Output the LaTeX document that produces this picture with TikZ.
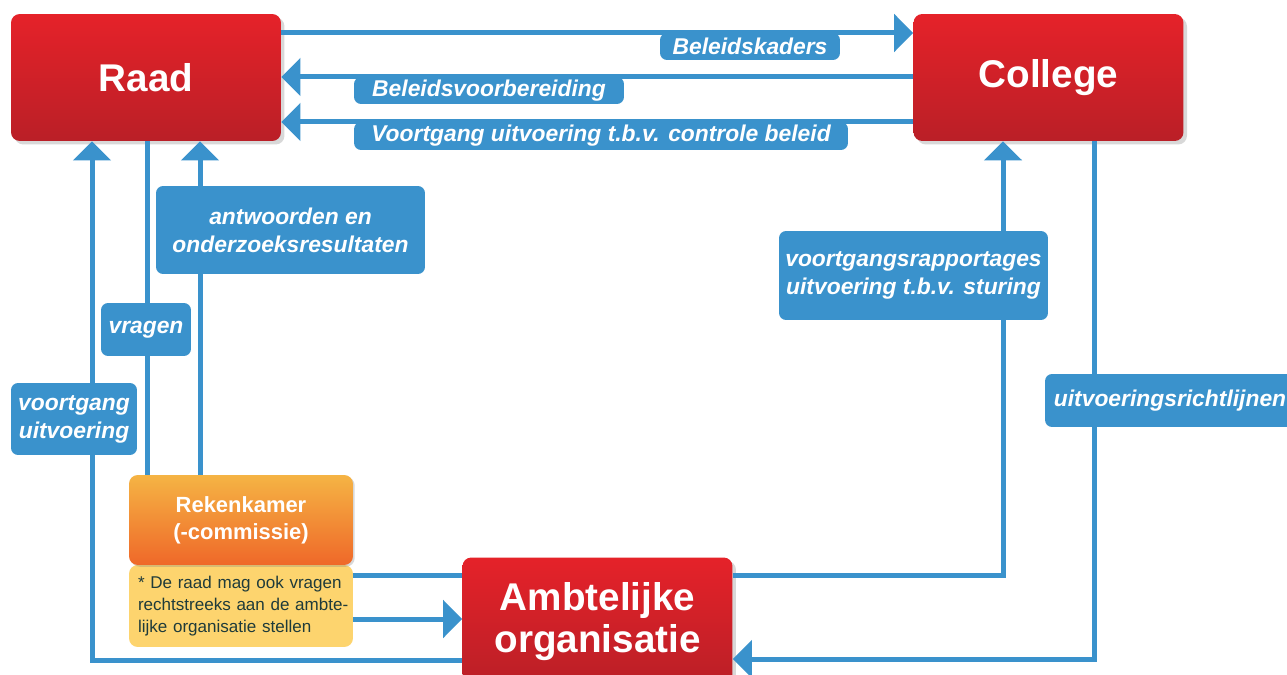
\documentclass[tikz,border=0pt]{standalone}
\usepackage{fontspec}
\setmainfont{Liberation Sans}
\usetikzlibrary{arrows.meta,shadows}
\definecolor{flowblue}{HTML}{3A92CC}
\definecolor{redtop}{HTML}{E52229}
\definecolor{redbot}{HTML}{BA1F27}
\definecolor{orangetop}{HTML}{F5B444}
\definecolor{orangebot}{HTML}{EF6829}
\definecolor{notefill}{HTML}{FDD46E}
\definecolor{notetext}{HTML}{1F3B3A}

\begin{document}
\begin{tikzpicture}[x=0.02cm,y=-0.02cm,
  main/.style={rounded corners=5pt,top color=redtop,bottom color=redbot,minimum width=5.4cm,minimum height=2.54cm,
    text=white,align=center,font=\fontsize{22}{24}\selectfont\bfseries,
    drop shadow={opacity=0.3,shadow xshift=2pt,shadow yshift=-2pt}},
  rekbox/.style={rounded corners=5pt,top color=orangetop,bottom color=orangebot,minimum width=4.48cm,minimum height=1.8cm,
    text=white,align=center,font=\fontsize{12.5}{15.5}\selectfont\bfseries,
    drop shadow={opacity=0.3,shadow xshift=1pt,shadow yshift=-1pt}},
  notebox/.style={fill=notefill,rounded corners=5pt,minimum width=4.48cm,minimum height=1.64cm,inner xsep=0.08cm,
    text width=4.32cm,align=left,text=notetext,font=\fontsize{9.7}{12.3}\selectfont},
  lbl/.style={fill=flowblue,rounded corners=4pt,inner sep=0pt,text=white,align=center,
    font=\fontsize{13}{16}\selectfont\bfseries\itshape},
  link/.style={flowblue,line width=0.1cm},
  flow/.style={link,-{Triangle[width=0.74cm,length=0.38cm]}},
]
  \useasboundingbox (0,0) rectangle (1287,675);
  \clip (0,0) rectangle (1287,675);
  \fill[white] (0,0) rectangle (1287,675);

  \node[main] (raad) at (146,77.5) {Raad};
  \node[main] (college) at (1048.5,77.5) {College};
  \node[main,minimum height=2.58cm] (amb) at (597.5,622) {Ambtelijke\\organisatie};
  \node[notebox] (note) at (241,606) {\hspace*{0.1cm}* De raad mag ook vragen\\\hspace*{0.1cm}rechtstreeks aan de ambte-\\\hspace*{0.1cm}lijke organisatie stellen};
  \node[rekbox] (rek) at (241,520) {Rekenkamer\\(-commissie)};

  % raad <-> college
  \draw[flow] (raad.east |- 0,33) -- (college.west |- 0,33);
  \draw[flow] (college.west |- 0,77) -- (raad.east |- 0,77);
  \draw[flow] (college.west |- 0,122) -- (raad.east |- 0,122);

  % left side
  \draw[flow] (amb.west |- 0,660) -| (raad.south -| 92,0);
  \draw[link] (raad.south -| 147,0) -- (rek.north -| 147,0);
  \draw[flow] (rek.north -| 200,0) -- (raad.south -| 200,0);
  \draw[link] (note.east |- 0,575) -- (amb.west |- 0,575);
  \draw[flow] (note.east |- 0,619) -- (amb.west |- 0,619);

  % right side
  \draw[flow] (amb.east |- 0,575) -| (college.south -| 1003,0);
  \draw[flow] (college.south -| 1094,0) |- (amb.east |- 0,659);

  \node[lbl,minimum width=3.6cm,minimum height=0.54cm] (kaders) at (750,46.5) {Beleidskaders};
  \node[lbl,minimum width=5.4cm,minimum height=0.54cm] (voorb) at (489,90.5) {Beleidsvoorbereiding};
  \node[lbl,minimum width=9.88cm,minimum height=0.56cm] (controle) at (601,136) {Voortgang uitvoering t.b.v. controle beleid};
  \node[lbl,minimum width=5.38cm,minimum height=1.76cm] (antw) at (290.5,230) {antwoorden en\\onderzoeksresultaten};
  \node[lbl,minimum width=1.8cm,minimum height=1.06cm] (vragen) at (146,329.5) {vragen};
  \node[lbl,minimum width=2.52cm,minimum height=1.44cm] (voortg) at (74,419) {voortgang\\uitvoering};
  \node[lbl,minimum width=5.38cm,minimum height=1.78cm] (rapp) at (913.5,275.5) {voortgangsrapportages\\uitvoering t.b.v. sturing};
  \node[lbl,minimum width=5.0cm,minimum height=1.06cm] (richtl) at (1170,400.5) {uitvoeringsrichtlijnen};
\end{tikzpicture}
\end{document}
